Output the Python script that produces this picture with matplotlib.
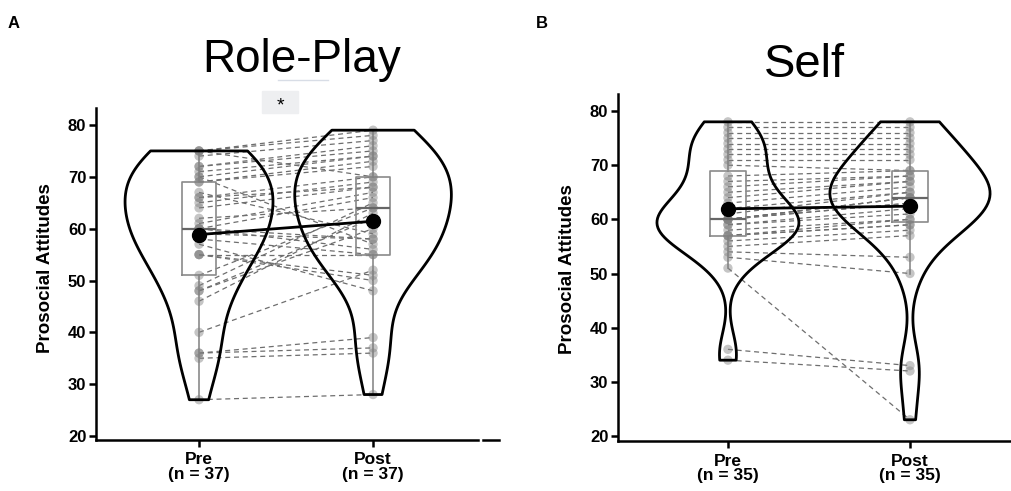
import numpy as np
import matplotlib
matplotlib.use("Agg")
import matplotlib.pyplot as plt
from matplotlib.patches import Rectangle
from matplotlib.lines import Line2D

plt.rcParams['font.family'] = ['Liberation Sans', 'DejaVu Sans']

# Role-Play scores, one entry per participant (pre paired with post)
roleplay_pre = [27, 35, 36, 36, 40, 46, 48, 48, 49, 51, 55, 55, 55, 57, 58, 59, 60, 60, 60,
                61, 62, 64, 65, 66, 66, 67, 69, 69, 70, 70, 71, 72, 72, 74, 75, 75, 75]
roleplay_post = [28, 36, 37, 39, 52, 63, 62, 60, 65, 64, 50, 51, 55, 48, 55, 58, 56, 66, 58,
                 67, 64, 68, 69, 68, 70, 59, 73, 72, 74, 57, 74, 75, 76, 77, 78, 79, 70]

# Self scores
self_pre = [34, 36, 51, 53, 54, 55, 56, 57, 57, 57, 58, 59, 59, 60, 60, 60, 60, 60,
            61, 62, 63, 64, 65, 66, 67, 68, 70, 71, 72, 73, 74, 75, 76, 77, 78]
self_post = [32, 33, 23, 50, 53, 57, 58, 59, 59, 60, 60, 61, 62, 63, 63, 64, 64, 64,
             65, 65, 66, 67, 67, 68, 68, 69, 69, 71, 72, 73, 74, 75, 76, 77, 78]

yticks = [20, 30, 40, 50, 60, 70, 80]
roleplay_labels = ["Pre\n(n = 37)", "Post\n(n = 37)"]
self_labels = ["Pre\n(n = 35)", "Post\n(n = 35)"]

W, H = 1011, 491
fig = plt.figure(figsize=(W / 100, H / 100), dpi=100)


def draw_panel(ax, pre, post, labels, widths, bw, whis):
    # paired lines
    for a, b in zip(pre, post):
        ax.plot([1, 2], [a, b], ls=(0, (4, 3)), color='#6e6e6e', lw=0.9, zorder=2)
    # violins
    parts = ax.violinplot([pre, post], positions=[1, 2], widths=widths,
                          showextrema=False, bw_method=bw)
    for body in parts['bodies']:
        body.set_facecolor('none')
        body.set_edgecolor('black')
        body.set_linewidth(2)
        body.set_alpha(1)
        body.set_zorder(4)
    # boxes
    grey = '#8a8a8a'
    ax.boxplot([pre, post], positions=[1, 2], widths=0.2, whis=whis,
               showfliers=False, showcaps=False,
               boxprops=dict(color=grey, lw=1.2),
               whiskerprops=dict(color=grey, lw=1.2),
               medianprops=dict(color='#666666', lw=1.6),
               zorder=3)
    # points
    ax.scatter([1] * len(pre), pre, s=45, color='#808080', alpha=0.45,
               edgecolors='none', zorder=3)
    ax.scatter([2] * len(post), post, s=45, color='#808080', alpha=0.45,
               edgecolors='none', zorder=3)
    # means
    ax.plot([1, 2], [np.mean(pre), np.mean(post)], color='black', lw=2,
            marker='o', ms=10, zorder=6)

    ax.set_xticks([1, 2])
    ax.set_xticklabels(labels, fontsize=12.5, fontweight='bold', linespacing=0.95)
    ax.set_yticks(yticks)
    ax.set_yticklabels([str(t) for t in yticks], fontsize=12, fontweight='bold')
    for s in ['top', 'right']:
        ax.spines[s].set_visible(False)
    for s in ['left', 'bottom']:
        ax.spines[s].set_linewidth(1.8)
    ax.tick_params(width=1.8, length=5, pad=2)
    ax.tick_params(axis='x', pad=4)


# Panel A
ax1 = fig.add_axes([96 / W, 1 - 440 / H, 382 / W, 332 / H])
draw_panel(ax1, roleplay_pre, roleplay_post, roleplay_labels,
           widths=[0.85, 0.9], bw='scott', whis=(0, 100))
ax1.set_xlim(0.408, 2.603)
ax1.set_ylim(19.23, 83.28)

# Panel B
ax2 = fig.add_axes([618 / W, 1 - 441 / H, 393 / W, 347 / H])
draw_panel(ax2, self_pre, self_post, self_labels,
           widths=[0.78, 0.88], bw=0.4, whis=1.5)
ax2.set_xlim(0.396, 2.555)
ax2.set_ylim(19.08, 83.14)

# text
fig.text(46 / W, 1 - 268 / H, "Prosocial Attitudes", rotation=90, ha='center',
         va='center', fontsize=13.5, fontweight='bold')
fig.text(567 / W, 1 - 269 / H, "Prosocial Attitudes", rotation=90, ha='center',
         va='center', fontsize=13.5, fontweight='bold')
fig.text(302 / W, 1 - 72 / H, "Role-Play", ha='center', va='baseline', fontsize=33)
fig.text(804 / W, 1 - 77 / H, "Self", ha='center', va='baseline', fontsize=34)
fig.text(14 / W, 1 - 24 / H, "A", ha='center', va='center', fontsize=12, fontweight='bold')
fig.text(542 / W, 1 - 24 / H, "B", ha='center', va='center', fontsize=12, fontweight='bold')

# significance marker
fig.patches.append(Rectangle((262 / W, 1 - 113 / H), 36 / W, 22 / H,
                             transform=fig.transFigure, color='#eeeff1', zorder=0))
fig.text(280 / W, 1 - 106 / H, "*", ha='center', va='center', fontsize=14)
fig.lines.append(Line2D([278 / W, 328 / W], [1 - 80 / H] * 2, transform=fig.transFigure,
                        color='#d8dde6', lw=1))
fig.lines.append(Line2D([483 / W, 499 / W], [1 - 440 / H] * 2, transform=fig.transFigure,
                        color='black', lw=1.8))

fig.savefig("out.png", dpi=100)
